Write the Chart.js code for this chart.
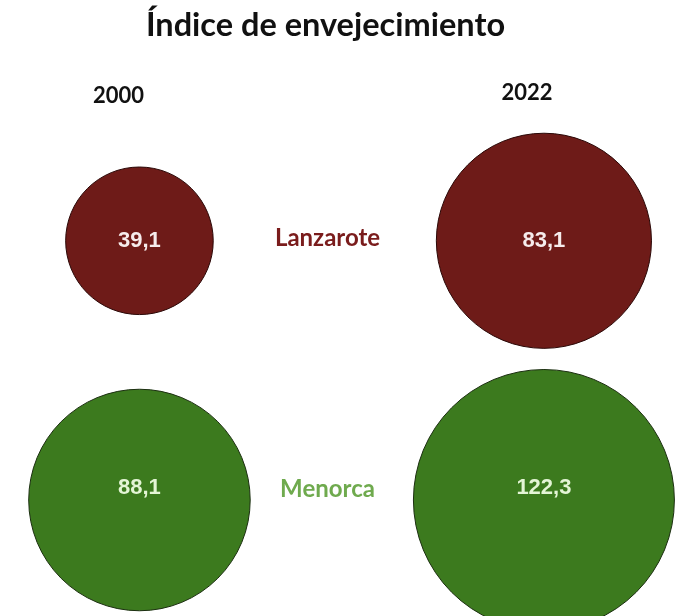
<!DOCTYPE html>
<html>
<head>
<meta charset="utf-8">
<script src="https://cdn.jsdelivr.net/npm/chart.js@4/dist/chart.umd.min.js"></script>
<style>
  html, body { margin: 0; padding: 0; background: #ffffff; }
  #wrap { width: 678px; height: 616px; position: relative; }
</style>
</head>
<body>
<div id="wrap"><canvas id="c" width="678" height="616"></canvas></div>
<script>
// ---- data ----
const titleText = 'Índice de envejecimiento';
const years = ['2000', '2022'];
const islands = ['Lanzarote', 'Menorca'];
const lanzarote = [39.1, 83.1];
const menorca = [88.1, 122.3];

const fillColors = ['#6e1b18', '#3c7a1e'];
const borderColors = ['#2a0706', '#1b2e10'];
const islandTextColors = ['#7a1c1c', '#6faa4e'];
const valueTextColors = ['#f6ecec', '#e4f5d6'];

const seriesValues = [lanzarote, menorca];
const areaScale = 11.8; // bubble area proportional to value

function fmt(v) { return v.toFixed(1).replace('.', ','); }

const datasets = islands.map((name, row) => ({
  label: name,
  data: seriesValues[row].map((v, col) => ({ x: col, y: row, r: areaScale * Math.sqrt(v), v: v })),
  backgroundColor: fillColors[row],
  borderColor: borderColors[row],
  borderWidth: 1,
  hoverBorderWidth: 1,
  clip: false
}));

const labelPlugin = {
  id: 'labelPlugin',
  afterDatasetsDraw(chart) {
    const ctx = chart.ctx;
    const xs = chart.scales.x, ys = chart.scales.y;
    ctx.save();
    ctx.textAlign = 'center';
    ctx.textBaseline = 'middle';
    // values inside bubbles
    chart.data.datasets.forEach((ds, di) => {
      const meta = chart.getDatasetMeta(di);
      meta.data.forEach((el, i) => {
        ctx.fillStyle = valueTextColors[di];
        ctx.font = 'bold 22px Arial, "Liberation Sans", sans-serif';
        ctx.fillText(fmt(ds.data[i].v), el.x, el.y - (di === 1 ? 12 : 0));
      });
    });
    // column headers (years)
    ctx.fillStyle = '#111111';
    ctx.font = 'bold 22px Lato, "Open Sans", sans-serif';
    years.forEach((y, i) => {
      ctx.fillText(y, xs.getPixelForValue(i) - 21 + i * 4, 96 - i * 3);
    });
    // row labels (islands)
    ctx.font = 'bold 24px Lato, "Open Sans", sans-serif';
    islands.forEach((name, r) => {
      ctx.fillStyle = islandTextColors[r];
      ctx.fillText(name, xs.getPixelForValue(0.465), ys.getPixelForValue(r) - (r === 0 ? 3 : 11));
    });
    ctx.restore();
  }
};

new Chart(document.getElementById('c'), {
  type: 'bubble',
  data: { datasets: datasets },
  options: {
    responsive: false,
    animation: false,
    events: [],
    layout: { autoPadding: false, padding: { left: 99, right: 126, top: 0, bottom: 116 } },
    scales: {
      x: { type: 'linear', min: -0.1, max: 1.02, display: false },
      y: { type: 'linear', min: 0, max: 1, reverse: true, display: false }
    },
    plugins: {
      legend: { display: false },
      tooltip: { enabled: false },
      title: {
        display: true,
        text: titleText,
        color: '#111111',
        font: { family: 'Lato, "Open Sans", sans-serif', size: 32.5, weight: 'bold', lineHeight: 1.2 },
        padding: { top: 6, bottom: 195.8 }
      }
    }
  },
  plugins: [labelPlugin]
});
</script>
</body>
</html>
